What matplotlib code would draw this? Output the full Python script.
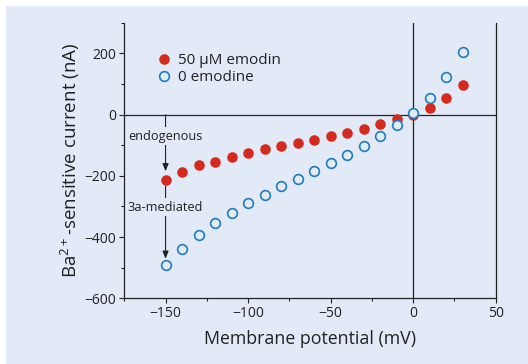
import matplotlib
matplotlib.use("Agg")
import matplotlib.pyplot as plt
from matplotlib.patches import Rectangle
from matplotlib.ticker import MultipleLocator

plt.rcParams['font.family'] = ['Open Sans', 'DejaVu Sans']
plt.rcParams['mathtext.fontset'] = 'custom'
plt.rcParams['mathtext.rm'] = 'Open Sans'
plt.rcParams['mathtext.default'] = 'regular'

BG = "#e2e9f7"
INK = "#222222"
RED = "#d52a1e"
BLUE = "#1f7dc0"

# membrane potential steps (mV)
voltage = [-150, -140, -130, -120, -110, -100, -90, -80, -70, -60,
           -50, -40, -30, -20, -10, 0, 10, 20, 30]
# Ba2+-sensitive current (nA)
current_emodin = [-214, -187, -164, -153, -138, -124, -112, -102, -93, -82,
                  -70, -60, -46, -32, -14, 0, 23, 54, 97]
current_control = [-491, -440, -393, -355, -320, -290, -261, -234, -210, -185,
                   -158, -131, -103, -68, -33, 7, 56, 124, 206]

label_emodin = "50 µM emodin"
label_control = "0 emodine"

fig = plt.figure(figsize=(5.28, 3.64), dpi=100)
fig.patch.set_facecolor("white")
fig.patches.append(Rectangle((6 / 528, 0), 1, 1 - 6 / 364, transform=fig.transFigure,
                             facecolor=BG, edgecolor="none", zorder=-10))

ax = fig.add_axes([0.2354, 0.1805, 0.7032, 0.7566])
ax.set_facecolor(BG)

ax.axhline(0, color=INK, lw=0.9, zorder=1)
ax.axvline(0, color=INK, lw=0.9, zorder=1)

ax.plot(voltage, current_emodin, "o", ms=7.6, color=RED, mec=RED, mew=0,
        label=label_emodin, zorder=3)
ax.plot(voltage, current_control, "o", ms=7.0, mfc=BG, mec=BLUE, mew=1.2,
        label=label_control, zorder=4)

# arrows marking the two current components at -150 mV
arrow = dict(arrowstyle="-|>,head_length=0.45,head_width=0.18", color=INK,
             lw=0.8, shrinkA=0, shrinkB=0)
ax.annotate("", xy=(-150, -185), xytext=(-150, 0), arrowprops=arrow, zorder=2)
ax.annotate("", xy=(-150, -471), xytext=(-150, -232), arrowprops=arrow, zorder=2)
box = dict(boxstyle="square,pad=0.2", facecolor=BG, edgecolor="none")
ax.text(-150, -70, "endogenous", ha="center", va="center", fontsize=9.2,
        color=INK, bbox=box, zorder=2.5)
ax.text(-150, -302, "3a-mediated", ha="center", va="center", fontsize=9.2,
        color=INK, bbox=box, zorder=2.5)

ax.set_xlim(-175, 50)
ax.set_ylim(-600, 300)
ax.xaxis.set_minor_locator(MultipleLocator(25))
ax.yaxis.set_minor_locator(MultipleLocator(100))
ax.set_xticks([-150, -100, -50, 0, 50])
ax.set_yticks([-600, -400, -200, 0, 200])

for s in ["left", "bottom", "right"]:
    ax.spines[s].set_color(INK)
    ax.spines[s].set_linewidth(0.9)
ax.spines["top"].set_visible(False)
ax.tick_params(which="both", direction="out", color=INK, width=0.8,
               labelcolor=INK, labelsize=10, top=False, right=False)
ax.tick_params(which="major", length=3.8, pad=2)
ax.tick_params(which="minor", length=2.2)

ax.set_xlabel("Membrane potential (mV)", fontsize=12.8, color=INK, labelpad=6)
ax.set_ylabel("Ba$^{2+}$-sensitive current (nA)", fontsize=13.5, color=INK, labelpad=2)

ax.legend(loc="upper left", bbox_to_anchor=(0.065, 0.912), frameon=False,
          fontsize=11, handletextpad=0.35, labelspacing=0.12, borderaxespad=0,
          handlelength=1.2, labelcolor=INK)

fig.savefig("out.png", dpi=100, facecolor=fig.get_facecolor())
